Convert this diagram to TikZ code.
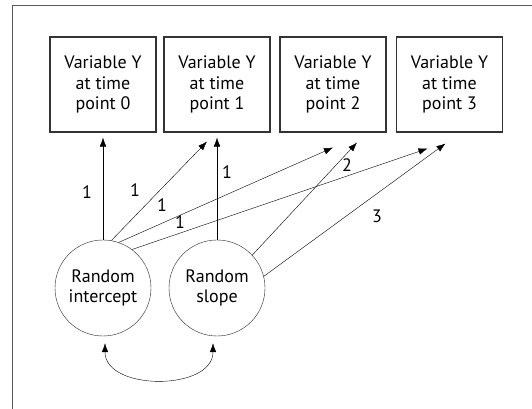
\documentclass[tikz,border=0pt]{standalone}
\usepackage{fontspec}
\setmainfont{PT Sans}
\usetikzlibrary{arrows.meta,positioning}
\tikzset{>={Latex[length=9pt,width=6.5pt]},line width=.8pt,
  every node/.style={font=\fontsize{18}{20.5}\selectfont},
  obs/.style={draw=black!80,line width=1.1pt,minimum width=106pt,minimum height=95pt,align=center,inner sep=0pt},
  latent/.style={draw=black!85,circle,minimum size=96pt,align=center,inner sep=0pt},
  load/.style={->,draw=black},
  coef/.style={inner sep=1pt}}

\begin{document}
\begin{tikzpicture}[x=1pt,y=1pt]
\useasboundingbox (0,0) rectangle (532,409);
\draw[black!65,line width=1pt] (12,0)--(12,403)--(532,403);
% repeated measures of Y
\node[obs] (y0) at (103,324.5) {Variable Y\\at time\\point 0};
\node[obs] (y1) at (217,324.5) {Variable Y\\at time\\point 1};
\node[obs] (y2) at (333,324.5) {Variable Y\\at time\\point 2};
\node[obs] (y3) at (449.5,324.5) {Variable Y\\at time\\point 3};
% growth factors
\node[latent] (ri) at (103,121) {Random\\intercept};
\node[latent] (rs) at (217,121) {Random\\slope};
% intercept loadings, all fixed at 1
\draw[load] (ri.90) -- ([yshift=-5pt]y0.south);
\draw[load] (ri.80) -- ([shift={(-10pt,-9pt)}]y1.south);
\draw[load] (ri.71) -- ([yshift=-15pt]y2.south);
\draw[load] (ri.53) -- ([shift={(-22pt,-16pt)}]y3.south);
% slope loadings 0..3 (the 0 path is left out)
\draw[load] (rs.90) -- ([yshift=-5pt]y1.south);
\draw[load] (rs.43) -- ([shift={(24pt,-10pt)}]y2.south);
\draw[load] (rs.14) -- ([shift={(-4pt,-11pt)}]y3.south);
\node[coef] (c0) at (87,217) {1};\node[coef] (c1) at (135,219) {1};
\node[coef] (c2) at (162,204) {1};\node[coef] (c3) at (180,187) {1};
\node[coef] (d1) at (227,237) {1};\node[coef] (d2) at (347,244) {2};
\node[coef] (d3) at (377,193) {3};
% covariance between the factors
\draw[<->,draw=black] ([shift={(2pt,-7pt)}]ri.south) .. controls +(0,-48) and +(0,-48) .. ([shift={(-4pt,-7pt)}]rs.south);
\end{tikzpicture}
\end{document}
